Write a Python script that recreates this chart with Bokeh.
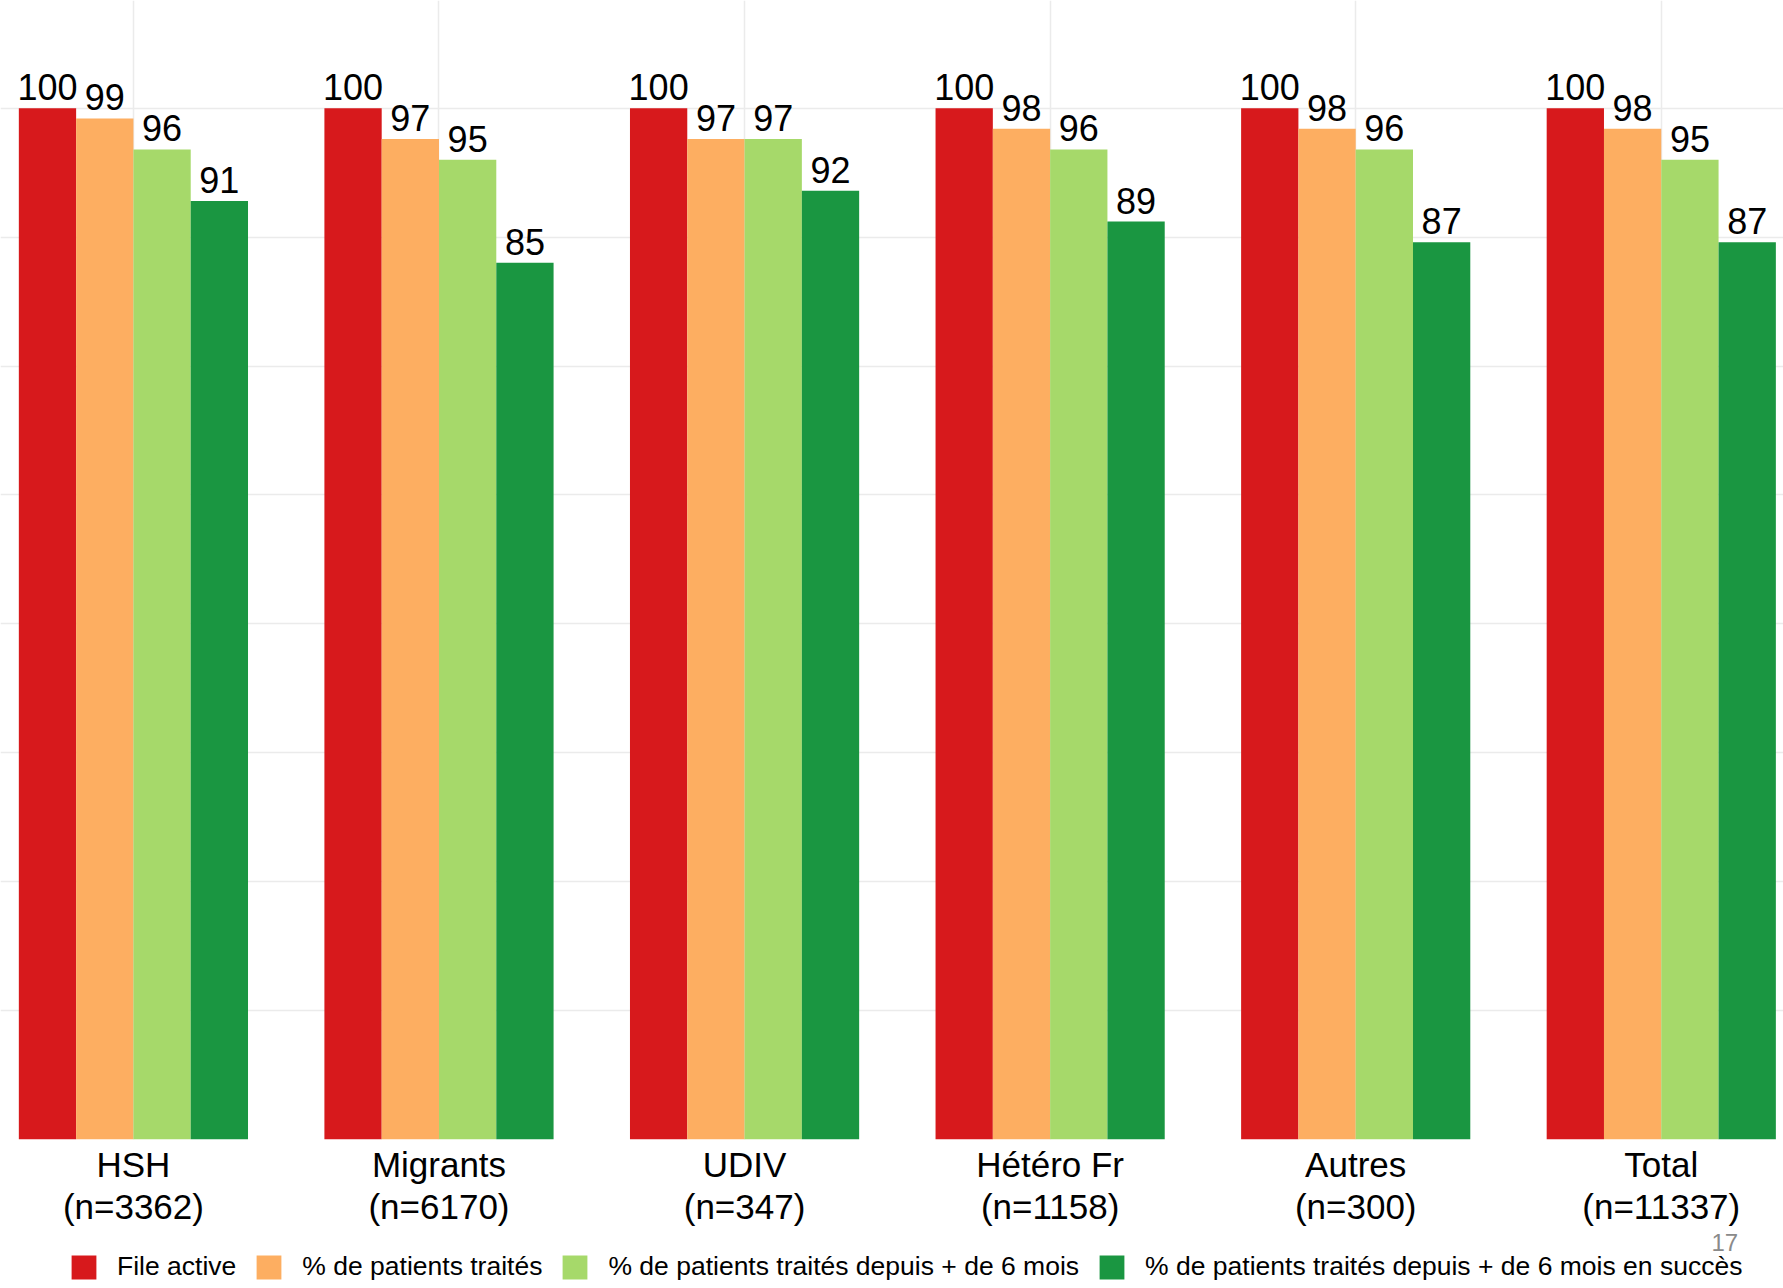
from bokeh.plotting import figure
from bokeh.models import ColumnDataSource, Range1d, FixedTicker, Legend, LegendItem, Label
from bokeh.layouts import column
from bokeh.transform import dodge
from bokeh.core.properties import value
from bokeh.embed import file_html
from bokeh.resources import INLINE

categories = ["HSH", "Migrants", "UDIV", "Hétéro Fr", "Autres", "Total"]
counts = ["n=3362", "n=6170", "n=347", "n=1158", "n=300", "n=11337"]
series_names = [
    "File active",
    "% de patients traités",
    "% de patients traités depuis + de 6 mois",
    "% de patients traités depuis + de 6 mois en succès",
]
file_active = [100, 100, 100, 100, 100, 100]
traites = [99, 97, 97, 98, 98, 98]
traites_6m = [96, 95, 97, 96, 96, 95]
succes_6m = [91, 85, 92, 89, 87, 87]
colors = ["#D7191C", "#FDAE61", "#A6D96A", "#1A9641"]
page_number = "17"

series = [file_active, traites, traites_6m, succes_6m]
FONT = "Liberation Sans"

p = figure(
    frame_width=1783, frame_height=1139,
    x_range=Range1d(-0.435, 5.4), y_range=Range1d(0, 110.44),
    output_backend="svg", toolbar_location=None,
    y_axis_location=None,
    min_border_left=0, min_border_right=0, min_border_top=0, min_border_bottom=0,
)
p.outline_line_color = None
p.background_fill_color = "white"

idx = list(range(len(categories)))
group_width = 0.75
bw = group_width / len(series)

sources = []
for k, (vals, col) in enumerate(zip(series, colors)):
    src = ColumnDataSource(dict(x=idx, top=vals, lab=[str(v) for v in vals]))
    sources.append(src)
    off = -group_width / 2 + bw * (k + 0.5)
    p.vbar(x=dodge("x", off), top="top", width=bw, source=src,
           fill_color=col, line_color=None)
    p.text(x=dodge("x", off), y="top", text="lab", source=src,
           text_align="center", text_baseline="bottom", y_offset=-8,
           text_font=value(FONT), text_font_size="36px", text_color="black")

# grids
p.ygrid.ticker = FixedTicker(ticks=[i * 12.5 for i in range(9)])
p.ygrid.grid_line_color = "#EBEBEB"
p.ygrid.grid_line_width = 1.5
p.xgrid.grid_line_color = "#EBEBEB"
p.xgrid.grid_line_width = 1.5

ax = p.xaxis[0]
ax.ticker = FixedTicker(ticks=idx)
ax.major_label_overrides = {i: f"{c}\n({n})" for i, c, n in zip(idx, categories, counts)}
ax.axis_line_color = None
ax.major_tick_line_color = None
ax.minor_tick_line_color = None
ax.major_tick_out = 0
ax.major_tick_in = 0
ax.major_label_standoff = 5
ax.major_label_text_font = FONT
ax.major_label_text_font_size = "35px"
ax.major_label_text_line_height = 1.08
ax.major_label_text_color = "black"

# legend strip: a small figure whose hidden renderers carry the swatch styles
pl = figure(
    frame_width=1783, frame_height=55,
    x_range=Range1d(0, 1), y_range=Range1d(0, 1),
    output_backend="svg", toolbar_location=None,
    x_axis_location=None, y_axis_location=None,
    min_border_left=0, min_border_right=0, min_border_top=0, min_border_bottom=0,
)
pl.outline_line_color = None
pl.grid.visible = False
items = []
for src, col, name in zip(sources, colors, series_names):
    r = pl.vbar(x="x", top="top", width=bw, source=src,
                fill_color=col, line_color=None, visible=False)
    items.append(LegendItem(label=name, renderers=[r]))

legend = Legend(items=items, orientation="horizontal", location=(68, 1),
                glyph_width=31, glyph_height=30, label_standoff=18, spacing=17,
                padding=0, margin=0, border_line_color=None,
                background_fill_alpha=0, label_text_font=FONT,
                label_text_font_size="26.5px", label_text_color="black", label_height=30)
pl.add_layout(legend, "center")

pl.add_layout(Label(x=1711, y=50, x_units="screen", y_units="screen", text=page_number,
                    text_baseline="top", text_font=FONT, text_font_size="24px",
                    text_color="#8A8A8A"))

layout = column(p, pl, spacing=0)
open("out.html", "w").write(file_html(layout, INLINE))
